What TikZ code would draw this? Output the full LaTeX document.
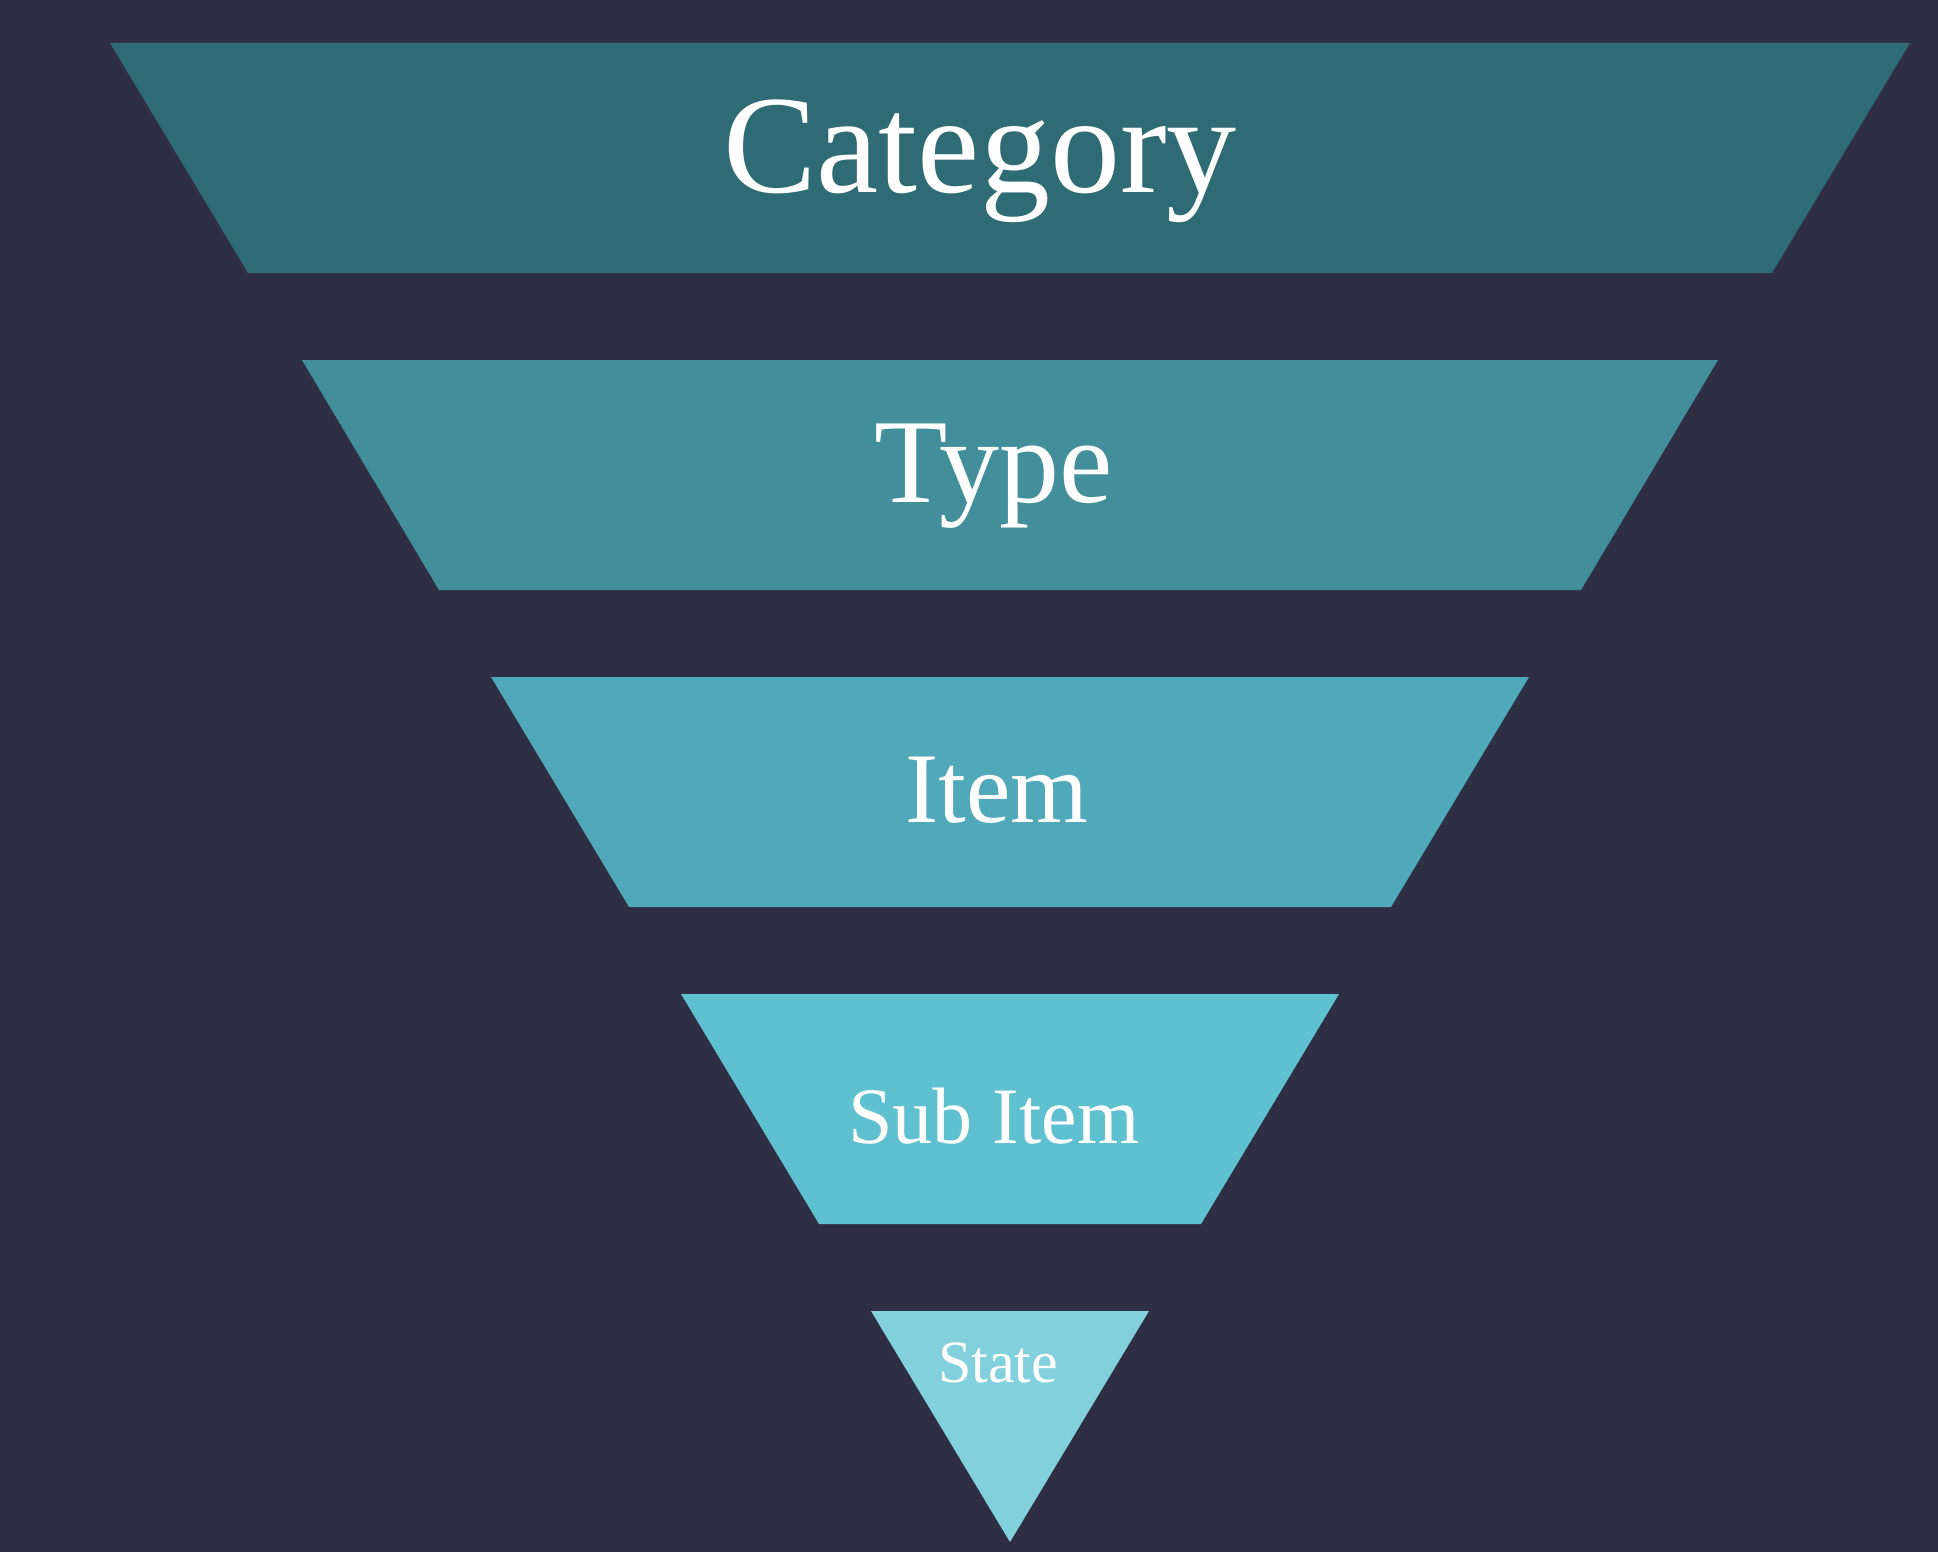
\documentclass[tikz,border=0pt]{standalone}
\usepackage{fontspec}
\setmainfont{Liberation Serif}
\usepackage{tikz}

\definecolor{bgdark}{HTML}{2E2F45}
\definecolor{funnelA}{HTML}{2F6B74}
\definecolor{funnelB}{HTML}{428F9B}
\definecolor{funnelC}{HTML}{4FA9B8}
\definecolor{funnelD}{HTML}{5FC1D0}
\definecolor{funnelE}{HTML}{82D0DB}

\tikzset{
  level/.style={draw=none, text=white, inner sep=0pt},
}

\begin{document}
\begin{tikzpicture}[x=1pt,y=-1pt]
\fill[bgdark] (0,0) rectangle (1938,1552);
\useasboundingbox (0,0) rectangle (1938,1552);

\fill[funnelA] (110,43) -- (1910,43) -- (1772,273) -- (248,273) -- cycle;
\fill[funnelB] (302,360) -- (1718,360) -- (1581,590) -- (439,590) -- cycle;
\fill[funnelC] (491,677) -- (1529,677) -- (1391,907) -- (629,907) -- cycle;
\fill[funnelD] (681,994) -- (1339,994) -- (1201,1224) -- (819,1224) -- cycle;
\fill[funnelE] (871,1311) -- (1149,1311) -- (1010,1542) -- cycle;

\node[level, font=\fontsize{140}{140}\selectfont] (cat) at (980,161) {Category};
\node[level, font=\fontsize{120}{120}\selectfont] (type) at (994,476) {Type};
\node[level, font=\fontsize{100}{100}\selectfont] (item) at (997,790) {Item};
\node[level, font=\fontsize{80}{80}\selectfont] (subitem) at (994,1116) {Sub Item};
\node[level, font=\fontsize{60}{60}\selectfont] (state) at (998,1363) {State};
\end{tikzpicture}
\end{document}
